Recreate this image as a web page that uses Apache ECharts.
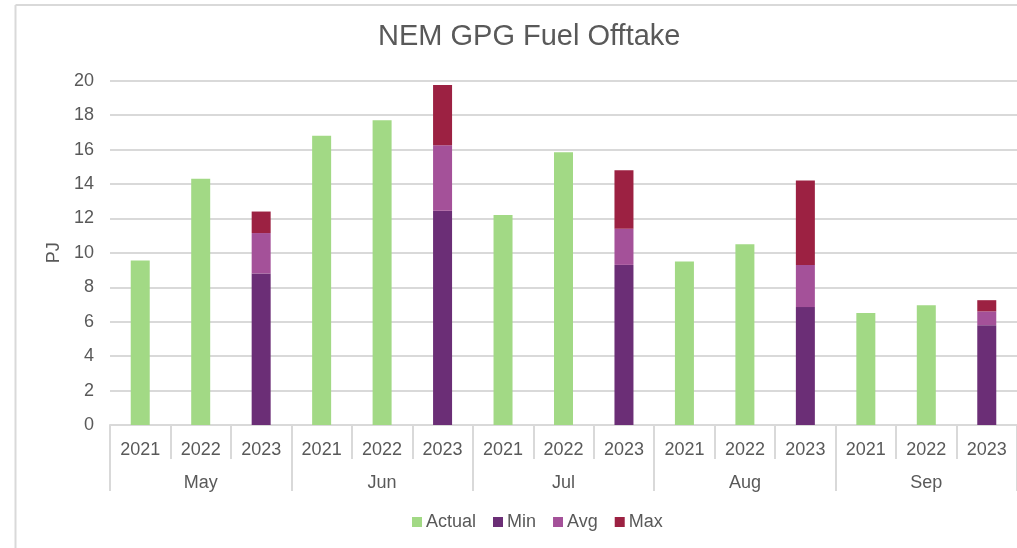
<!DOCTYPE html>
<html>
<head>
<meta charset="utf-8">
<script src="https://cdn.jsdelivr.net/npm/echarts@6/dist/echarts.min.js"></script>
<style>
html,body{margin:0;padding:0;background:#fff;}
#c{width:1017px;height:548px;}
</style>
</head>
<body>
<div id="c"></div>
<script>
// ---- data ----
var months = ['May', 'Jun', 'Jul', 'Aug', 'Sep'];
var years = ['2021', '2022', '2023'];
var actual2021 = [9.55, 16.8, 12.2, 9.5, 6.5];
var actual2022 = [14.3, 17.7, 15.85, 10.5, 6.95];
var min2023 = [8.8, 12.45, 9.3, 6.85, 5.8];
var avg2023 = [11.15, 16.25, 11.4, 9.3, 6.6];
var max2023 = [12.4, 19.75, 14.8, 14.2, 7.25];
var yTicks = [0, 2, 4, 6, 8, 10, 12, 14, 16, 18, 20];

// ---- build ----
var cats = [], actual = [], minS = [], avgS = [], maxS = [];
months.forEach(function (m, i) {
  years.forEach(function (y) { cats.push(y); });
  actual.push(actual2021[i], actual2022[i], '-');
  minS.push('-', '-', min2023[i]);
  avgS.push('-', '-', +(avg2023[i] - min2023[i]).toFixed(3));
  maxS.push('-', '-', +(max2023[i] - avg2023[i]).toFixed(3));
});

var FONT = 'Liberation Sans, Arial, sans-serif';
var TXT = '#595959';
var LINE = '#d9d9d9';

var chart = echarts.init(document.getElementById('c'), null, {renderer: 'canvas'});
chart.setOption({
  animation: false,
  backgroundColor: '#fff',
  textStyle: {fontFamily: FONT},
  graphic: [
    {type: 'line', shape: {x1: 15.5, y1: 5, x2: 15.5, y2: 548}, style: {stroke: LINE, lineWidth: 2}, silent: true},
    {type: 'line', shape: {x1: 15.5, y1: 5, x2: 1017, y2: 5}, style: {stroke: LINE, lineWidth: 2}, silent: true}
  ],
  title: {
    text: 'NEM GPG Fuel Offtake',
    left: 378, top: 22, padding: 0,
    textStyle: {fontFamily: FONT, fontSize: 29, fontWeight: 'normal', color: TXT}
  },
  legend: {
    data: ['Actual', 'Min', 'Avg', 'Max'],
    left: 407, top: 508,
    icon: 'rect', itemWidth: 10, itemHeight: 10, itemGap: 17,
    textStyle: {fontFamily: FONT, fontSize: 18, color: TXT, padding: [0, 0, 0, -1]}
  },
  grid: {left: 110, top: 80.7, width: 910, height: 344.3, containLabel: false},
  xAxis: [
    {
      type: 'category', data: cats, position: 'bottom',
      axisLine: {show: true, lineStyle: {color: LINE, width: 2}},
      axisTick: {show: true, length: 34, lineStyle: {color: LINE, width: 2}},
      axisLabel: {fontFamily: FONT, fontSize: 18, color: TXT, margin: 16, interval: 0}
    },
    {
      type: 'category', data: months, position: 'bottom', offset: 0,
      axisLine: {show: false},
      axisTick: {show: true, length: 66, lineStyle: {color: LINE, width: 2}},
      axisLabel: {fontFamily: FONT, fontSize: 18, color: TXT, margin: 49, interval: 0}
    }
  ],
  yAxis: {
    type: 'value', min: 0, max: 20, interval: 2,
    name: 'PJ', nameLocation: 'middle', nameGap: 44,
    nameTextStyle: {fontFamily: FONT, fontSize: 18, color: TXT},
    axisLine: {show: false}, axisTick: {show: false},
    axisLabel: {fontFamily: FONT, fontSize: 18, color: TXT, margin: 16,
      formatter: function (v) { return yTicks.indexOf(v) >= 0 ? String(v) : ''; }},
    splitLine: {show: true, lineStyle: {color: LINE, width: 2}}
  },
  series: [
    {name: 'Actual', type: 'bar', stack: 's', data: actual, barWidth: 19, itemStyle: {color: '#a2d985'}},
    {name: 'Min', type: 'bar', stack: 's', data: minS, barWidth: 19, itemStyle: {color: '#6b2e76'}},
    {name: 'Avg', type: 'bar', stack: 's', data: avgS, barWidth: 19, itemStyle: {color: '#a45199'}},
    {name: 'Max', type: 'bar', stack: 's', data: maxS, barWidth: 19, itemStyle: {color: '#9c2142'}}
  ]
});
</script>
</body>
</html>
